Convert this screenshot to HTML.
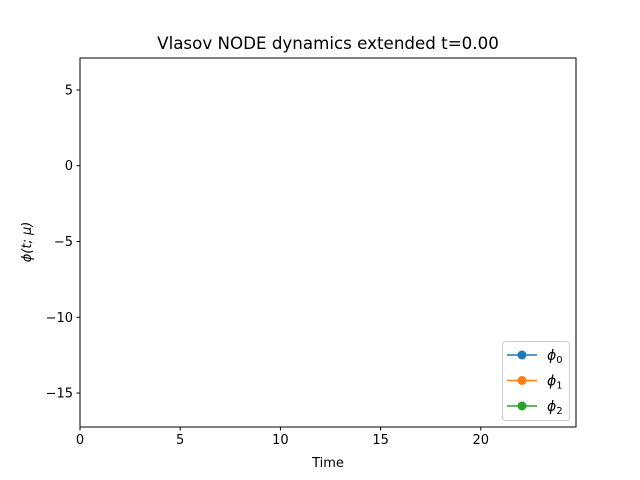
<!DOCTYPE html>
<html><head><meta charset="utf-8"><style>
body{margin:0;background:#fff;}
svg{display:block;font-family:"DejaVu Sans","Liberation Sans",sans-serif;}
</style></head><body>
<svg id="chart" width="640" height="480" viewBox="0 0 640 480">
<rect x="0" y="0" width="640" height="480" fill="#fff"/>
<text x="328" y="49" font-size="16.7" text-anchor="middle">Vlasov NODE dynamics extended t=0.00</text>
<g id="xticks"></g>
<g id="yticks"></g>
<g id="series"></g>
<rect x="80" y="58" width="496" height="369" fill="none" stroke="#000" stroke-width="1"/>
<text x="328" y="467" font-size="13" text-anchor="middle">Time</text>
<text transform="translate(31,242) rotate(-90)" font-size="13" font-style="italic" text-anchor="middle">ϕ(t; μ)</text>
<g>
<rect x="502.5" y="341.5" width="67" height="79" rx="3" fill="#fff" fill-opacity="0.8" stroke="#ccc"/>
<g>
<line x1="507" y1="355" x2="537" y2="355" stroke="#1f77b4" stroke-width="1.5"/><circle cx="522" cy="355" r="4.5" fill="#1f77b4"/>
<text x="547" y="360" font-size="14" font-style="italic">ϕ<tspan font-size="10" font-style="normal" dy="3">0</tspan></text></g>
<g>
<line x1="507" y1="380.5" x2="537" y2="380.5" stroke="#ff7f0e" stroke-width="1.5"/><circle cx="522" cy="380.5" r="4.5" fill="#ff7f0e"/>
<text x="547" y="385.5" font-size="14" font-style="italic">ϕ<tspan font-size="10" font-style="normal" dy="3">1</tspan></text></g>
<g>
<line x1="507" y1="406" x2="537" y2="406" stroke="#2ca02c" stroke-width="1.5"/><circle cx="522" cy="406" r="4.5" fill="#2ca02c"/>
<text x="547" y="411" font-size="14" font-style="italic">ϕ<tspan font-size="10" font-style="normal" dy="3">2</tspan></text></g>
</g>
</svg>
<script>
const xTicks = [0, 5, 10, 15, 20];
const yTicks = [5, 0, -5, -10, -15];
const seriesNames = ["phi0", "phi1", "phi2"];
const phi0Values = [];
const phi1Values = [];
const phi2Values = [];
const timeValues = [];
const xMin = 0, xMax = 24.75, yMin = -17.24, yMax = 7.11;
const L = 80, R = 576, T = 58, B = 427;
function sx(v){ return L + (v - xMin) / (xMax - xMin) * (R - L); }
function sy(v){ return B - (v - yMin) / (yMax - yMin) * (B - T); }
const NS = "http://www.w3.org/2000/svg";
const xg = document.getElementById('xticks'), yg = document.getElementById('yticks');
xTicks.forEach(t => {
  const x = sx(t);
  const l = document.createElementNS(NS, 'line');
  l.setAttribute('x1', x); l.setAttribute('x2', x); l.setAttribute('y1', B); l.setAttribute('y2', B + 3.5);
  l.setAttribute('stroke', '#000');
  
  
  xg.appendChild(l);
  const tx = document.createElementNS(NS, 'text');
  tx.setAttribute('x', x); tx.setAttribute('y', B + 17); tx.setAttribute('font-size', '13'); tx.setAttribute('text-anchor', 'middle');
  tx.textContent = String(t);
  
  
  xg.appendChild(tx);
});
yTicks.forEach(t => {
  const y = sy(t);
  const l = document.createElementNS(NS, 'line');
  l.setAttribute('x1', L - 3.5); l.setAttribute('x2', L); l.setAttribute('y1', y); l.setAttribute('y2', y);
  l.setAttribute('stroke', '#000');
  
  
  yg.appendChild(l);
  const tx = document.createElementNS(NS, 'text');
  tx.setAttribute('x', L - 7); tx.setAttribute('y', y + 4.5); tx.setAttribute('font-size', '13'); tx.setAttribute('text-anchor', 'end');
  tx.textContent = t < 0 ? '\u2212' + Math.abs(t) : String(t);
  
  
  yg.appendChild(tx);
});
const colors = ["#1f77b4", "#ff7f0e", "#2ca02c"];
const sg = document.getElementById('series');
[phi0Values, phi1Values, phi2Values].forEach((vals, i) => {
  if (!vals.length) return;
  const p = document.createElementNS(NS, 'polyline');
  p.setAttribute('points', vals.map((v, j) => sx(timeValues[j]) + ',' + sy(v)).join(' '));
  p.setAttribute('fill', 'none'); p.setAttribute('stroke', colors[i]); p.setAttribute('stroke-width', '1.5');
  
  
  sg.appendChild(p);
});
</script>
</body></html>
